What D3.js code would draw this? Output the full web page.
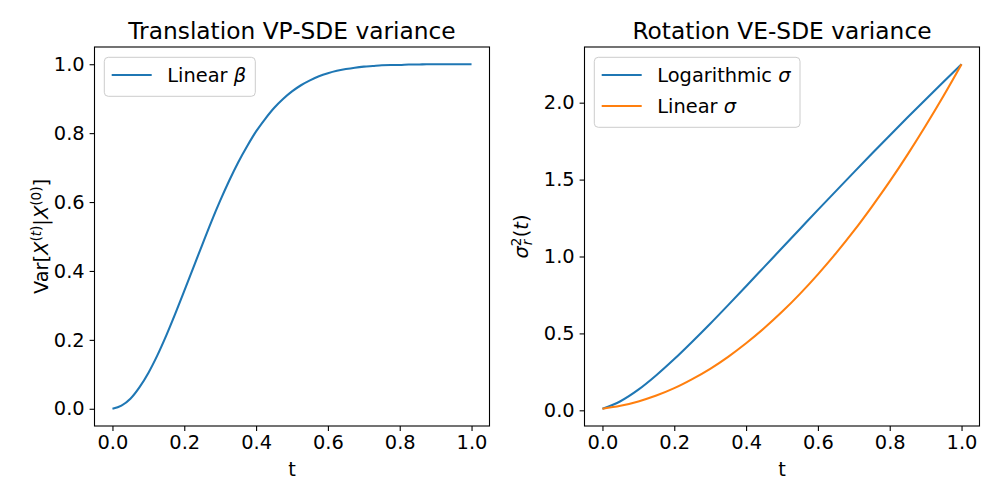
<!DOCTYPE html>
<html>
<head>
<meta charset="utf-8">
<script src="https://cdn.jsdelivr.net/npm/d3@7"></script>
<style>
  body { margin: 0; background: #fff; }
  text { font-family: "DejaVu Sans", sans-serif; fill: #000; }
</style>
</head>
<body>
<svg id="chart" width="1000" height="500"></svg>
<script>
// left panel: VP-SDE variance, linear beta (finer t grid, the curve bends fast)
var tLeft = [0, 0.025, 0.05, 0.075, 0.1, 0.125, 0.15, 0.175, 0.2, 0.225, 0.25,
  0.275, 0.3, 0.325, 0.35, 0.375, 0.4, 0.425, 0.45, 0.475, 0.5,
  0.525, 0.55, 0.575, 0.6, 0.625, 0.65, 0.675, 0.7, 0.725, 0.75,
  0.775, 0.8, 0.825, 0.85, 0.875, 0.9, 0.925, 0.95, 0.975, 1.0];
var linearBeta = [0, 0.009, 0.029, 0.062, 0.104, 0.155, 0.213, 0.276, 0.342, 0.409, 0.476,
  0.542, 0.604, 0.662, 0.715, 0.762, 0.805, 0.841, 0.873, 0.899, 0.921,
  0.939, 0.953, 0.965, 0.974, 0.981, 0.986, 0.990, 0.993, 0.995, 0.997,
  0.998, 0.998, 0.999, 0.999, 1.0, 1.0, 1.0, 1.0, 1.0, 1.0];

// right panel: rotation VE-SDE variance
var tRight = [0, 0.05, 0.1, 0.15, 0.2, 0.25, 0.3, 0.35, 0.4, 0.45, 0.5,
  0.55, 0.6, 0.65, 0.7, 0.75, 0.8, 0.85, 0.9, 0.95, 1.0];
var logSigma = [0.010, 0.059, 0.134, 0.228, 0.333, 0.446, 0.563, 0.684, 0.807, 0.931, 1.055,
  1.179, 1.303, 1.425, 1.547, 1.668, 1.787, 1.905, 2.021, 2.136, 2.25];
var linSigma = [0.010, 0.029, 0.058, 0.096, 0.144, 0.203, 0.270, 0.348, 0.436, 0.533, 0.640,
  0.757, 0.884, 1.020, 1.166, 1.323, 1.488, 1.664, 1.850, 2.045, 2.25];

var xTicks = [0, 0.2, 0.4, 0.6, 0.8, 1.0];
var yTicksLeft = [0, 0.2, 0.4, 0.6, 0.8, 1.0];
var yTicksRight = [0, 0.5, 1.0, 1.5, 2.0];

var blue = "#1f77b4", orange = "#ff7f0e";
var fs = 19.4;

var svg = d3.select("#chart");

function padded(lo, hi) {
  var m = (hi - lo) * 0.05;
  return [lo - m, hi + m];
}

function drawPanel(cfg) {
  var x = d3.scaleLinear().domain(padded(0, 1)).range([cfg.left, cfg.right]);
  var allY = d3.merge(cfg.series.map(s => s.values));
  var y = d3.scaleLinear().domain(padded(d3.min(allY), d3.max(allY))).range([cfg.bottom, cfg.top]);

  var g = svg.append("g");

  // lines
  var line = d3.line()
    .x((d, i) => x(cfg.t[i]))
    .y(d => y(d))
    .curve(d3.curveMonotoneX);

  cfg.series.forEach(function (s) {
    g.append("path")
      .attr("d", line(s.values))
      .attr("fill", "none")
      .attr("stroke", s.color)
      .attr("stroke-width", 2.08);
  });

  // axes
  var xAxis = g.append("g")
    .attr("transform", "translate(0," + cfg.bottom + ")")
    .call(d3.axisBottom(x).tickValues(xTicks).tickFormat(d3.format(".1f"))
      .tickSizeOuter(0).tickSize(4.9).tickPadding(4.4));
  var yAxis = g.append("g")
    .attr("transform", "translate(" + cfg.left + ",0)")
    .call(d3.axisLeft(y).tickValues(cfg.yTicks).tickFormat(d3.format(".1f"))
      .tickSizeOuter(0).tickSize(4.9).tickPadding(4.9));
  [xAxis, yAxis].forEach(function (a) {
    a.select(".domain").remove();
    a.selectAll("line").attr("stroke", "#000").attr("stroke-width", 1.1);
    a.selectAll("text").style("font-family", "DejaVu Sans").style("font-size", fs + "px").attr("fill", "#000");
  });

  // frame
  g.append("rect")
    .attr("x", cfg.left).attr("y", cfg.top)
    .attr("width", cfg.right - cfg.left).attr("height", cfg.bottom - cfg.top)
    .attr("fill", "none").attr("stroke", "#000").attr("stroke-width", 1.1);

  var cx = (cfg.left + cfg.right) / 2;

  // title
  g.append("text")
    .attr("x", cx).attr("y", 39.3)
    .attr("text-anchor", "middle")
    .style("font-size", "23.3px")
    .text(cfg.title);

  // x label
  g.append("text")
    .attr("x", cx).attr("y", 475.5)
    .attr("text-anchor", "middle")
    .style("font-size", fs + "px")
    .text("t");

  // y label
  var yl = g.append("text")
    .attr("transform", "translate(" + cfg.ylabelX + "," + ((cfg.top + cfg.bottom) / 2) + ") rotate(-90)")
    .attr("text-anchor", "middle")
    .style("font-size", fs + "px");
  cfg.ylabel(yl);

  // legend
  var lx = cfg.left + 9.8, ly = cfg.top + 10.3;
  var rowH = 31;
  g.append("rect")
    .attr("x", lx).attr("y", ly)
    .attr("width", cfg.legendW).attr("height", 8 + rowH * cfg.series.length)
    .attr("rx", 4).attr("ry", 4)
    .attr("fill", "#fff").attr("fill-opacity", 0.8)
    .attr("stroke", "#cccccc").attr("stroke-width", 1);

  cfg.series.forEach(function (s, i) {
    var rowY = ly + 17.7 + i * rowH;
    g.append("line")
      .attr("x1", lx + 7.4).attr("x2", lx + 47.4)
      .attr("y1", rowY).attr("y2", rowY)
      .attr("stroke", s.color).attr("stroke-width", 2.08);
    var t = g.append("text")
      .attr("x", lx + 63).attr("y", rowY + 7.3)
      .style("font-size", fs + "px");
    t.append("tspan").text(s.label + " ");
    t.append("tspan").style("font-style", "italic").text(s.symbol);
  });
}

drawPanel({
  left: 94.5, right: 489.5, top: 47, bottom: 426,
  title: "Translation VP-SDE variance",
  t: tLeft,
  yTicks: yTicksLeft,
  legendW: 151,
  ylabelX: 47.5,
  series: [{ values: linearBeta, color: blue, label: "Linear", symbol: "\u03B2" }],
  ylabel: function (t) {
    t.append("tspan").text("Var[");
    t.append("tspan").style("font-style", "italic").text("X");
    t.append("tspan").attr("dy", -7).style("font-size", "13.6px").text("(");
    t.append("tspan").style("font-size", "13.6px").style("font-style", "italic").text("t");
    t.append("tspan").style("font-size", "13.6px").text(")");
    t.append("tspan").attr("dy", 7).text("|");
    t.append("tspan").style("font-style", "italic").text("X");
    t.append("tspan").attr("dy", -7).style("font-size", "13.6px").text("(0)");
    t.append("tspan").attr("dy", 7).text("]");
  }
});

drawPanel({
  left: 584.5, right: 979.5, top: 47, bottom: 426,
  title: "Rotation VE-SDE variance",
  t: tRight,
  yTicks: yTicksRight,
  legendW: 205.7,
  ylabelX: 527.5,
  series: [
    { values: logSigma, color: blue, label: "Logarithmic", symbol: "\u03C3" },
    { values: linSigma, color: orange, label: "Linear", symbol: "\u03C3" }
  ],
  ylabel: function (t) {
    t.append("tspan").style("font-style", "italic").text("\u03C3");
    t.append("tspan").attr("dy", -7).style("font-size", "13.6px").text("2");
    t.append("tspan").attr("dx", -7.8).attr("dy", 11).style("font-size", "13.6px").style("font-style", "italic").text("r");
    t.append("tspan").attr("dx", 2.5).attr("dy", -4).text("(");
    t.append("tspan").style("font-style", "italic").text("t");
    t.append("tspan").text(")");
  }
});
</script>
</body>
</html>
